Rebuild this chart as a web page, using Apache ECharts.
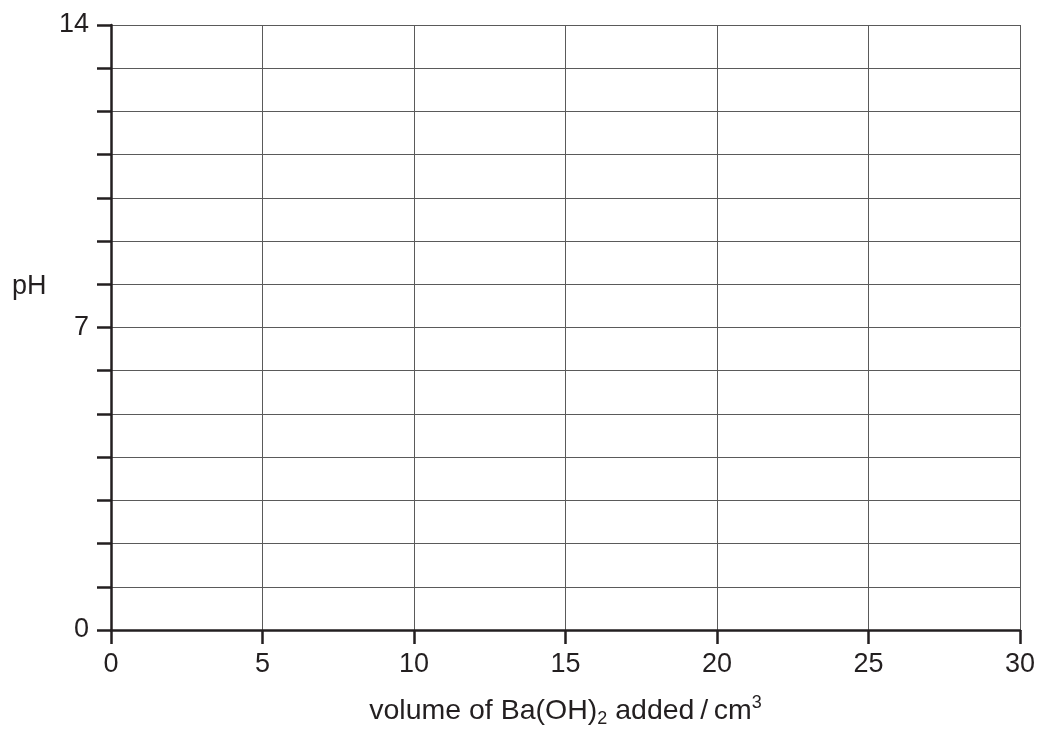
<!DOCTYPE html>
<html>
<head>
<meta charset="utf-8">
<script src="https://cdn.jsdelivr.net/npm/echarts@6/dist/echarts.min.js"></script>
<style>
html,body{margin:0;padding:0;background:#fff;}
#chart{width:1039px;height:733px;}
</style>
</head>
<body>
<div id="chart"></div>
<script>
// Axis ranges and tick labels
var xMin = 0, xMax = 30, xStep = 5;
var yMin = 0, yMax = 14, yStep = 1;
var yLabelValues = [0, 7, 14];
var xAxisTitle = ['volume of Ba(OH)', '2', ' added\u2009/\u2009cm', '3'];
var yAxisTitle = 'pH';
// No data plotted: empty grid
var seriesData = [];

var font = 'Liberation Sans, Arial, Helvetica, sans-serif';
var ink = '#231f20';
var chart = echarts.init(document.getElementById('chart'));
chart.setOption({
  backgroundColor: '#fff',
  animation: false,
  grid: {left: 111, right: 19, top: 25, bottom: 101, containLabel: false},
  graphic: [{
    type: 'text', left: 12, top: 273,
    style: {text: yAxisTitle, font: '27px ' + font, fill: ink}
  }],
  xAxis: {
    type: 'value', min: xMin, max: xMax, interval: xStep,
    axisLine: {show: true, onZero: false, lineStyle: {color: ink, width: 2.5}},
    axisTick: {show: true, length: 14, lineStyle: {color: ink, width: 2.5}},
    axisLabel: {margin: 21, fontSize: 27, color: ink, fontFamily: font},
    splitLine: {show: true, lineStyle: {color: '#5a5a5a', width: 1}},
    name: '{a|' + xAxisTitle[0] + '}{sub|' + xAxisTitle[1] + '}{a|' + xAxisTitle[2] + '}{sup|' + xAxisTitle[3] + '}',
    nameLocation: 'middle',
    nameGap: 64,
    nameTextStyle: {
      color: ink, fontFamily: font, fontSize: 28,
      rich: {
        a: {fontSize: 28.5, lineHeight: 34, fontFamily: font, color: ink},
        sub: {fontSize: 18, lineHeight: 16, verticalAlign: 'bottom', fontFamily: font, color: ink},
        sup: {fontSize: 18, lineHeight: 20, verticalAlign: 'top', fontFamily: font, color: ink}
      }
    }
  },
  yAxis: {
    type: 'value', min: yMin, max: yMax, interval: yStep,
    axisLine: {show: true, onZero: false, lineStyle: {color: ink, width: 2.5}},
    axisTick: {show: true, length: 14, lineStyle: {color: ink, width: 2.5}},
    axisLabel: {
      margin: 22, fontSize: 27, color: ink, fontFamily: font, padding: [9, 0, 0, 0],
      formatter: function (v) { return yLabelValues.indexOf(v) >= 0 ? String(v) : ''; }
    },
    splitLine: {show: true, lineStyle: {color: '#5a5a5a', width: 1}}
  },
  series: [{type: 'line', data: seriesData, symbol: 'none'}]
});
</script>
</body>
</html>
